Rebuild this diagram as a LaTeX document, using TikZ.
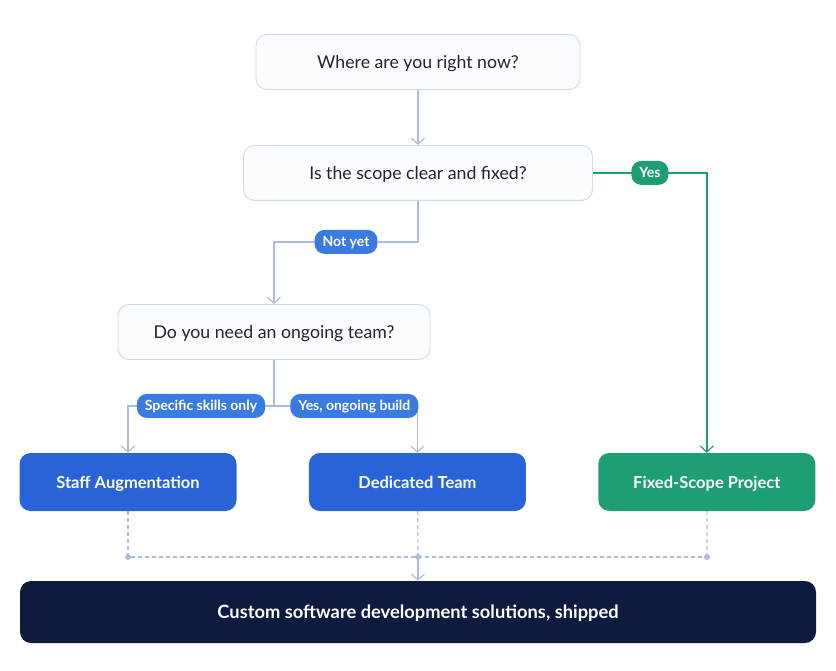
\documentclass[tikz,border=0pt]{standalone}
\usepackage{fontspec}
\setmainfont{Lato}
\usetikzlibrary{positioning, arrows.meta, calc}

\definecolor{inkdark}{HTML}{1F2432}
\definecolor{edgeline}{HTML}{AEBCD9}
\definecolor{askline}{HTML}{CCDAF2}
\definecolor{askfill}{HTML}{FBFCFE}
\definecolor{pathblue}{HTML}{2864D8}
\definecolor{pillblue}{HTML}{3A7BE2}
\definecolor{pathgreen}{HTML}{1D9E76}
\definecolor{shipnavy}{HTML}{0D1B3E}

\begin{document}
\begin{tikzpicture}[
    x=1pt, y=-1pt,
    >={Straight Barb[length=6pt, width=13pt, line width=1.2pt]},
    ask/.style={draw=askline, line width=0.9pt, fill=askfill, rounded corners=11pt,
                text=inkdark, minimum height=55pt, text height=13pt, text depth=0pt,
                font=\fontsize{17.7}{21}\selectfont},
    route/.style={rounded corners=11pt, text=white, minimum width=217pt,
                  minimum height=58pt, text height=12pt, text depth=0pt,
                  font=\fontsize{16.5}{19}\selectfont\bfseries},
    pill/.style={rounded corners=10pt, fill=pillblue, text=white, inner xsep=8pt,
                 minimum height=24pt, text height=10pt, text depth=0pt,
                 font=\fontsize{14}{16}\selectfont\bfseries},
    link/.style={->, draw=edgeline, line width=1.3pt},
    yeslink/.style={->, draw=pathgreen, line width=1.5pt},
    merge/.style={draw=edgeline, line width=1.2pt, dash pattern=on 4pt off 3pt},
    dot/.style={circle, fill=edgeline, inner sep=0pt, minimum size=6pt},
]
\useasboundingbox (0,0) rectangle (836,670);

% ── questions ────────────────────────────────────────────────────────────────
\node[ask, minimum width=324pt] (now) at (418,62) {Where are you right now?};
\node[ask, minimum width=349pt, below=55pt of now] (scope) {Is the scope clear and fixed?};
\node[ask, minimum width=312pt] (ongoing) at (274,332) {Do you need an ongoing team?};

% ── engagement models ────────────────────────────────────────────────────────
\node[route, fill=pathblue] (staff) at (128,482) {Staff Augmentation};
\node[route, fill=pathblue, right=72pt of staff] (team) {Dedicated Team};
\node[route, fill=pathgreen, right=72pt of team] (fixed) {Fixed-Scope Project};

% ── outcome ──────────────────────────────────────────────────────────────────
\node[rounded corners=11pt, fill=shipnavy, text=white, minimum width=796pt,
      minimum height=62pt, text height=13pt, text depth=0pt,
      font=\fontsize{18.3}{21}\selectfont\bfseries]
    (ship) at (418,612) {Custom software development solutions, shipped};

% ── merge points ─────────────────────────────────────────────────────────────
\node[dot] (mstaff) at (128,557) {};
\node[dot] (mteam)  at (418,557) {};
\node[dot] (mfixed) at (707,557) {};

% ── edges ────────────────────────────────────────────────────────────────────
\draw[link] (now) -- (scope);
\draw[yeslink] (scope.east) -| node[pos=0.25, pill, fill=pathgreen] {Yes} (fixed.north);
\draw[link] (scope.south) -- ++(0,41) -| node[pos=0.25, pill] {Not yet} (ongoing.north);
\draw[link] (ongoing.south) -- ++(0,46) -| node[pos=0.25, pill] {Specific skills only} (staff.north);
\draw[link] (ongoing.south) -- ++(0,46) -| node[pos=0.28, pill] {Yes, ongoing build} (team.north);

\draw[merge] (staff) -- (mstaff);
\draw[merge] (team) -- (mteam);
\draw[merge] (fixed) -- (mfixed);
\draw[merge] (mstaff) -- (mfixed);
\draw[link] (mteam) -- (ship);

\end{tikzpicture}
\end{document}
